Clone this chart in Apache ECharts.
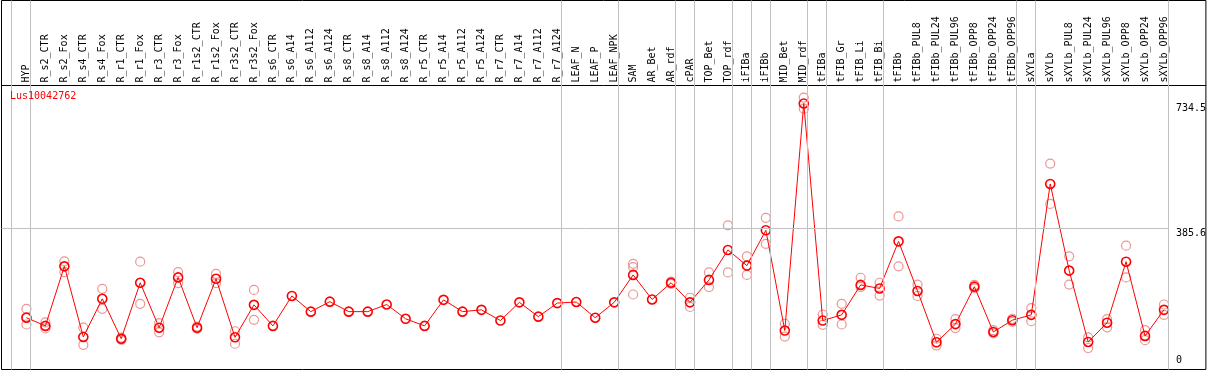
<!DOCTYPE html>
<html><head><meta charset="utf-8">
<script src="https://cdn.jsdelivr.net/npm/echarts@6/dist/echarts.min.js"></script>
<style>html,body{margin:0;padding:0;background:#fff}#c{width:1209px;height:370px}</style>
</head><body><div id="c"></div>
<script>
// ---- data ----
const geneName = 'Lus10042762';
const categories = ['HYP','R_s2_CTR','R_s2_Fox','R_s4_CTR','R_s4_Fox','R_r1_CTR','R_r1_Fox','R_r3_CTR','R_r3_Fox','R_r1s2_CTR','R_r1s2_Fox','R_r3s2_CTR','R_r3s2_Fox','R_s6_CTR','R_s6_A14','R_s6_A112','R_s6_A124','R_s8_CTR','R_s8_A14','R_s8_A112','R_s8_A124','R_r5_CTR','R_r5_A14','R_r5_A112','R_r5_A124','R_r7_CTR','R_r7_A14','R_r7_A112','R_r7_A124','LEAF_N','LEAF_P','LEAF_NPK','SAM','AR_Bet','AR_rdf','cPAR','TOP_Bet','TOP_rdf','iFIBa','iFIBb','MID_Bet','MID_rdf','tFIBa','tFIB_Gr','tFIB_Li','tFIB_Bi','tFIBb','tFIBb_PUL8','tFIBb_PUL24','tFIBb_PUL96','tFIBb_OPP8','tFIBb_OPP24','tFIBb_OPP96','sXYLa','sXYLb','sXYLb_PUL8','sXYLb_PUL24','sXYLb_PUL96','sXYLb_OPP8','sXYLb_OPP24','sXYLb_OPP96'];
const meanValues = [134,111,278,80,187,75,232,106,247,106,243,79,170,111,195,151,179,151,151,171,131,111,184,151,156,126,177,137,175,178,134,177,254,185,232,177,240,324,280,379,98,734.5,126,142,226,216,348,209,65,116,221,94,127,142,509,266,66,120,291,83,156];
const rep1 = [159,121,292,106,215,78,291,119,262,109,257,96,212,null,null,null,null,null,null,null,null,null,null,null,null,null,null,null,null,null,null,null,285,null,235,190,261,393,306,414,117,751,143,173,246,232,418,227,75,130,226,99,131,161,566,306,79,130,336,99,171];
const rep2 = [115,104,262,58,159,72,173,93,231,103,231,61,128,null,null,null,null,null,null,null,null,null,null,null,null,null,null,null,null,null,null,null,199,null,229,164,220,261,254,341,81,720,114,115,220,196,278,195,56,105,216,90,122,124,453,227,49,107,247,71,142];
const rep3 = [136,null,null,null,null,null,null,null,null,null,null,null,null,null,null,null,null,null,null,null,null,null,null,null,null,null,null,null,null,null,null,null,276,null,null,null,null,null,null,null,null,null,null,null,null,null,null,null,null,null,null,null,null,null,null,null,null,null,null,null,null];
const yTickValues = [0, 385.6, 734.5];
const refLineValue = 385.6;
const groupEnds = [-1,0,28,31,34,35,37,38,39,41,42,45,52,53,60];

// ---- layout ----
const FONT = 'DejaVu Sans Mono';
const PX = 19;               // px per category
const X_MIN = -25 / PX, X_MAX = X_MIN + 1207 / PX;
const SY = 0.35671;          // px per unit
const Y_MIN = -4 / SY, Y_MAX = 365 / SY;
const SEP = 4 / PX;

const chart = echarts.init(document.getElementById('c'), null, {renderer: 'canvas'});
const idx = categories.map((_, i) => i);
const meanData = meanValues.map((v, i) => [i, v]);
const repData = [];
[rep1, rep2, rep3].forEach(arr => arr.forEach((v, i) => { if (v != null) repData.push([i, v]); }));

const sepLines = groupEnds.map(e => ({xAxis: e + SEP}));
const refLine = [{coord: [X_MIN, refLineValue]}, {coord: [categories.length - 1 + SEP, refLineValue]}];

const yLabelBase = {inside: true, align: 'left', margin: 30, fontFamily: FONT, fontSize: 10, color: '#000'};

chart.setOption({
  animation: false,
  title: {text: geneName, left: 10, top: 91, padding: 0,
    textStyle: {color: '#ff0000', fontSize: 10, fontWeight: 'normal', fontFamily: FONT}},
  grid: {left: 1.5, top: 0.5, width: 1207, height: 369, show: true, borderColor: '#000', borderWidth: 1, backgroundColor: 'transparent'},
  xAxis: {type: 'value', min: X_MIN, max: X_MAX, position: 'top', offset: -85,
    axisLine: {show: true, onZero: false, lineStyle: {color: '#000', width: 1}},
    axisTick: {show: false}, splitLine: {show: false},
    axisLabel: {customValues: idx, formatter: v => categories[Math.round(v)] || '', rotate: -90, margin: 3,
      fontFamily: FONT, fontSize: 10, color: '#000'}},
  yAxis: [
    {type: 'value', min: Y_MIN, max: Y_MAX, position: 'right', axisLine: {show: false}, axisTick: {show: false}, splitLine: {show: false},
     axisLabel: Object.assign({customValues: yTickValues.filter(v => v !== 0), verticalAlign: 'top', formatter: v => String(v)}, yLabelBase)},
    {type: 'value', min: Y_MIN, max: Y_MAX, position: 'right', axisLine: {show: false}, axisTick: {show: false}, splitLine: {show: false},
     axisLabel: Object.assign({customValues: yTickValues.filter(v => v === 0), verticalAlign: 'bottom', formatter: v => String(v)}, yLabelBase)}
  ],
  series: [
    {type: 'line', data: [], silent: true, z: 1,
     markLine: {silent: true, symbol: ['none', 'none'], label: {show: false},
       lineStyle: {color: '#c0c0c0', type: 'solid', width: 1},
       data: sepLines.concat([refLine])}},
    {type: 'scatter', data: repData, symbol: 'circle', symbolSize: 9, silent: true, z: 2,
     itemStyle: {color: 'rgba(0,0,0,0)', borderColor: '#e67c7c', borderWidth: 1.2}},
    {type: 'line', data: meanData, symbol: 'circle', symbolSize: 9, showAllSymbol: true, silent: true, z: 3,
     lineStyle: {color: '#ff0000', width: 1},
     itemStyle: {color: 'rgba(0,0,0,0)', borderColor: '#ff0000', borderWidth: 1.6}}
  ]
});
</script>
</body></html>
